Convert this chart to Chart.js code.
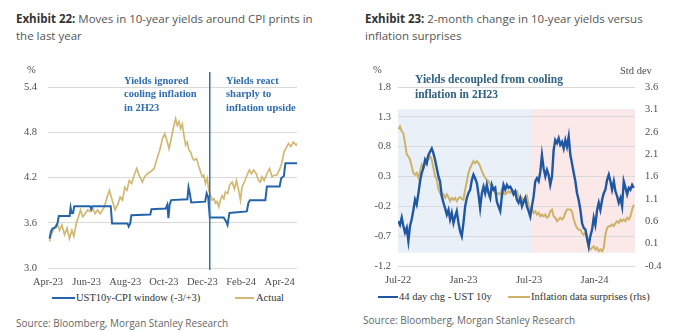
<!DOCTYPE html>
<html>
<head>
<meta charset="utf-8">
<script src="https://cdn.jsdelivr.net/npm/chart.js@4.4.1/dist/chart.umd.min.js"></script>
<style>
  body { margin: 0; background: #fff; }
  #page { position: relative; width: 680px; height: 331px; overflow: hidden; font-family: "Open Sans", sans-serif; }
  .title { position: absolute; top: 11px; font-size: 11.5px; line-height: 16.7px; color: #555; white-space: nowrap; }
  .title b { color: #333; }
  .src { position: absolute; font-size: 10px; line-height: 14px; color: #666; white-space: nowrap; }
  canvas { position: absolute; top: 60px; }
  .serif { position: absolute; font-family: "Liberation Serif", serif; font-size: 10.5px; line-height: 12px; color: #4d4d4d; white-space: nowrap; }
  .note { position: absolute; font-family: "Liberation Serif", serif; font-weight: bold; white-space: nowrap; }
  .key { position: absolute; font-family: "Liberation Serif", serif; font-size: 10.5px; line-height: 12px; color: #333; white-space: nowrap; }
  .key i { position: absolute; top: 5px; height: 2px; }
</style>
</head>
<body>
<div id="page">
  <div class="title" style="left:16px"><b>Exhibit 22:</b> Moves in 10-year yields around CPI prints in<br>the last year</div>
  <div class="title" style="left:365px"><b>Exhibit 23:</b> 2-month change in 10-year yields versus<br>inflation surprises</div>

  <canvas id="cpiChart" width="340" height="230" style="left:0"></canvas>
  <canvas id="surpriseChart" width="340" height="230" style="left:340px"></canvas>

  <div class="serif" style="left:27px;top:64px">%</div>
  <div class="note" style="left:124px;top:74px;font-size:10.5px;line-height:13.3px;color:#2e6db0">Yields ignored<br>cooling inflation<br>in 2H23</div>
  <div class="note" style="left:226px;top:74px;font-size:10.5px;line-height:13.3px;color:#2e6db0">Yields react<br>sharply to<br>inflation upside</div>

  <div class="serif" style="left:373px;top:64px">%</div>
  <div class="serif" style="left:620px;top:65px">Std dev</div>
  <div class="note" style="left:415px;top:72px;font-size:11.5px;line-height:15px;color:#2f6283">Yields decoupled from cooling<br>inflation in 2H23</div>

  <div class="key" style="left:52px;top:292px"><i style="left:0;width:23px;background:#2464ab"></i><span style="margin-left:24px">UST10y-CPI window (-3/+3)</span></div>
  <div class="key" style="left:235px;top:292px"><i style="left:0;width:19px;background:#d2b872"></i><span style="margin-left:21px">Actual</span></div>
  <div class="key" style="left:378px;top:291px"><i style="left:0;width:20px;background:#1f57a3"></i><span style="margin-left:21px">44 day chg - UST 10y</span></div>
  <div class="key" style="left:508px;top:291px"><i style="left:0;width:22px;background:#cdb26a"></i><span style="margin-left:23px">Inflation data surprises (rhs)</span></div>

  <div class="src" style="left:16px;top:316px">Source: Bloomberg, Morgan Stanley Research</div>
  <div class="src" style="left:363px;top:313px">Source: Bloomberg, Morgan Stanley Research</div>
</div>

<script>
// ---- Exhibit 22: x = months since 1 Apr 2023 ----
const cpiTickPos = [0, 2, 4, 6, 8, 10, 12];
const cpiTickText = ['Apr-23', 'Jun-23', 'Aug-23', 'Oct-23', 'Dec-23', 'Feb-24', 'Apr-24'];
const cpiYTicks = [3.0, 3.6, 4.2, 4.8, 5.4];
const cpiBreak = 8.38; // Dec-23 CPI print

const windowMonth = [0.08, 0.15, 0.22, 0.40, 0.50, 0.56, 1.12, 1.17, 1.22, 1.30, 1.36, 2.18, 2.24, 2.30, 3.25, 3.32,
  4.12, 4.18, 4.26, 4.32, 5.30, 5.36, 6.10, 6.18, 6.24, 6.30, 6.38, 7.22, 7.28, 7.34, 7.42, 8.14, 8.22, 8.30, 8.38,
  9.10, 9.22, 9.30, 9.40, 10.30, 10.38, 10.46, 11.26, 11.34, 12.00, 12.08, 12.22, 12.30, 12.90];
const windowYield = [3.39, 3.48, 3.52, 3.54, 3.60, 3.69, 3.69, 3.80, 3.73, 3.73, 3.82, 3.82, 3.78, 3.82, 3.82, 3.59,
  3.59, 3.55, 3.59, 3.70, 3.71, 3.78, 3.79, 3.84, 3.66, 3.84, 3.90, 3.91, 4.07, 4.00, 3.87, 3.88, 3.99, 3.94, 3.67,
  3.67, 3.62, 3.57, 3.73, 3.75, 3.86, 3.90, 3.90, 4.08, 4.08, 4.19, 4.22, 4.39, 4.39];

const actualMonth = [0.08, 0.17, 0.34, 0.48, 0.60, 0.72, 0.86, 0.99, 1.11, 1.24, 1.34, 1.46, 1.58, 1.68, 1.80, 1.92,
  2.06, 2.20, 2.32, 2.44, 2.57, 2.71, 2.83, 2.92, 3.06, 3.18, 3.30, 3.40, 3.47, 3.61, 3.74, 3.86, 3.98, 4.09, 4.21,
  4.33, 4.46, 4.60, 4.72, 4.89, 5.01, 5.15, 5.32, 5.50, 5.67, 5.81, 5.93, 6.05, 6.15, 6.27, 6.39, 6.49, 6.61, 6.70,
  6.79, 6.87, 6.96, 7.04, 7.13, 7.22, 7.30, 7.39, 7.47, 7.56, 7.70, 7.82, 7.90, 7.99, 8.07, 8.16, 8.25, 8.33, 8.42,
  8.50, 8.59, 8.68, 8.76, 8.85, 8.93, 9.02, 9.11, 9.19, 9.31, 9.41, 9.54, 9.66, 9.76, 9.88, 9.97, 10.05, 10.17,
  10.31, 10.43, 10.53, 10.65, 10.79, 10.91, 11.00, 11.08, 11.20, 11.34, 11.48, 11.60, 11.72, 11.85, 11.99, 12.11,
  12.23, 12.37, 12.46, 12.58, 12.71, 12.85, 12.90];
const actualYield = [3.35, 3.44, 3.54, 3.59, 3.50, 3.57, 3.44, 3.53, 3.39, 3.50, 3.42, 3.59, 3.68, 3.77, 3.68, 3.72,
  3.77, 3.75, 3.79, 3.72, 3.77, 3.72, 3.77, 3.81, 3.94, 4.03, 3.92, 3.84, 3.77, 3.84, 3.94, 3.90, 4.07, 4.03, 4.16,
  4.12, 4.23, 4.32, 4.23, 4.14, 4.21, 4.25, 4.28, 4.32, 4.47, 4.58, 4.72, 4.78, 4.70, 4.58, 4.72, 4.85, 4.98, 4.89,
  4.94, 4.85, 4.91, 4.76, 4.63, 4.67, 4.56, 4.54, 4.47, 4.43, 4.45, 4.34, 4.28, 4.21, 4.23, 4.12, 4.19, 4.03, 3.96,
  3.90, 3.92, 3.86, 3.88, 3.81, 3.90, 3.96, 3.92, 4.01, 3.99, 4.10, 4.14, 4.05, 4.16, 4.03, 3.90, 4.07, 4.14,
  4.23, 4.30, 4.25, 4.30, 4.25, 4.16, 4.14, 4.21, 4.16, 4.25, 4.32, 4.21, 4.23, 4.23, 4.30, 4.39,
  4.54, 4.61, 4.65, 4.61, 4.67, 4.63, 4.65];

// ---- Exhibit 23: x = months since 1 Jul 2022 ----
const chgTickPos = [0, 6, 12, 18];
const chgTickText = ['Jul-22', 'Jan-23', 'Jul-23', 'Jan-24'];
const chgYTicks = [-1.2, -0.7, -0.2, 0.3, 0.8, 1.3, 1.8];
const stdYTicks = [-0.4, 0.1, 0.6, 1.1, 1.6, 2.1, 2.6, 3.1, 3.6];
const bandFrom = [0, 12.2];
const bandTo = [21.7, 21.7];
const bandColour = ['#e9f0f7', '#fbe9e9'];
const bandLow = -0.1, bandHigh = 3.1; // rhs units

const chgMonth = [0.03, 0.18, 0.34, 0.49, 0.64, 0.80, 0.95, 1.10, 1.25, 1.41, 1.56, 1.71, 1.87, 2.02, 2.17, 2.32,
  2.48, 2.63, 2.78, 2.94, 3.09, 3.24, 3.39, 3.55, 3.70, 3.85, 4.01, 4.16, 4.31, 4.47, 4.62, 4.77, 4.92, 5.08, 5.23,
  5.38, 5.54, 5.69, 5.84, 5.99, 6.15, 6.30, 6.45, 6.61, 6.76, 6.91, 7.06, 7.22, 7.37, 7.52, 7.68, 7.83, 7.98, 8.13,
  8.29, 8.44, 8.59, 8.75, 8.90, 9.05, 9.20, 9.36, 9.51, 9.66, 9.82, 9.97, 10.12, 10.28, 10.43, 10.58, 10.73, 10.89,
  11.04, 11.19, 11.35, 11.50, 11.65, 11.80, 11.96, 12.11, 12.26, 12.42, 12.57, 12.72, 12.88, 13.03, 13.18, 13.33,
  13.49, 13.64, 13.79, 13.94, 14.10, 14.25, 14.40, 14.56, 14.71, 14.86, 15.02, 15.17, 15.32, 15.47, 15.63, 15.78,
  15.93, 16.09, 16.24, 16.39, 16.54, 16.70, 16.85, 17.00, 17.16, 17.31, 17.46, 17.61, 17.77, 17.92, 18.07, 18.23,
  18.38, 18.53, 18.69, 18.84, 18.99, 19.14, 19.30, 19.45, 19.60, 19.76, 19.91, 20.06, 20.21, 20.37, 20.52, 20.67,
  20.83, 20.98, 21.13, 21.28, 21.44, 21.59];
const chgValue = [-0.45, -0.51, -0.39, -0.53, -0.64, -0.56, -0.78, -0.53, -0.42, -0.26, -0.09, -0.17, 0.02, 0.22, 0.36, 0.44,
  0.58, 0.52, 0.66, 0.72, 0.77, 0.69, 0.58, 0.44, 0.30, 0.22, -0.03, -0.14, -0.23, -0.34, -0.26, -0.42, -0.31, -0.48, -0.37,
  -0.28, -0.48, -0.62, -0.70, -0.48, -0.20, -0.06, 0.02, 0.08, 0.24, 0.33, 0.27, 0.19, 0.00, -0.23, 0.02, 0.13, 0.02, 0.16,
  0.02, -0.06, 0.16, 0.08, 0.11, -0.12, -0.20, -0.28, -0.03, 0.16, 0.08, 0.16, 0.11, 0.13, 0.08, 0.00, 0.05, -0.09,
  -0.14, -0.06, -0.20, -0.12, -0.06, -0.20, -0.28, -0.37, -0.20, -0.03, 0.22, 0.27, 0.22, 0.38, 0.66, 0.44,
  0.30, 0.41, 0.33, 0.16, 0.30, 0.74, 0.91, 0.86, 0.94, 0.83, 0.88, 0.77, 0.91, 0.80, 0.97, 0.66,
  0.52, 0.36, 0.22, 0.02, -0.09, -0.26, -0.48, -0.56, -0.59, -0.73, -0.87, -0.70, -0.59, -0.39, -0.51, -0.26,
  -0.14, -0.26, -0.09, 0.02, 0.08, 0.24, 0.33, 0.22, 0.08, 0.22, 0.05, -0.03, -0.14, -0.06, -0.20, 0.22,
  0.11, 0.00, 0.11, 0.08, 0.16, 0.11];

const surpriseMonth = chgMonth;
const surpriseValue = [2.65, 2.72, 2.61, 2.57, 2.35, 2.09, 2.05, 1.98, 1.83, 1.68, 1.64, 1.68, 1.57, 1.72, 1.87, 1.79,
  1.90, 2.01, 1.98, 2.05, 1.98, 1.79, 1.61, 1.53, 1.31, 1.23, 1.16, 1.20, 1.12, 1.20, 1.14, 1.05, 1.12, 1.08, 1.12,
  1.05, 1.12, 1.14, 1.10, 1.08, 1.31, 1.49, 1.68, 1.79, 1.87, 1.94, 1.90, 1.94, 1.90, 1.83, 1.72, 1.64, 1.57, 1.53,
  1.49, 1.42, 1.38, 1.31, 1.23, 1.20, 1.23, 1.20, 1.31, 1.23, 1.20, 1.23, 1.27, 1.23, 1.31, 1.27, 1.23, 1.27,
  1.16, 1.08, 1.12, 1.01, 1.08, 1.16, 0.97, 0.86, 0.90, 0.79, 0.82, 0.75, 0.79, 0.71, 0.75, 0.71,
  0.75, 0.68, 0.71, 0.82, 0.86, 0.71, 0.68, 0.60, 0.64, 0.68, 0.64, 0.68, 0.79, 0.86, 0.86, 0.86,
  0.82, 0.64, 0.53, 0.45, 0.41, 0.41, 0.34, 0.30, 0.34, 0.19, 0.01, -0.03, 0.01, 0.04, -0.03, 0.01,
  -0.07, -0.03, -0.07, 0.01, 0.30, 0.45, 0.49, 0.49, 0.53, 0.49, 0.56, 0.60, 0.56, 0.64, 0.60, 0.64,
  0.60, 0.68, 0.64, 0.71, 0.86, 0.97];

const pts = (xs, ys) => xs.map((x, i) => ({ x: x, y: ys[i] }));
const tickFont = { family: '"Liberation Serif", serif', size: 10.5 };
const tickColour = '#4d4d4d';
const gridColour = '#d9d9d9';
const fixTicks = list => scale => { scale.ticks = list.map(v => ({ value: v })); };

// vertical marker at the December print
const breakLine = {
  id: 'breakLine',
  afterDatasetsDraw(chart) {
    const ctx = chart.ctx, area = chart.chartArea;
    const x = chart.scales.x.getPixelForValue(cpiBreak);
    ctx.save();
    ctx.strokeStyle = '#3570a8';
    ctx.lineWidth = 1.5;
    ctx.beginPath();
    ctx.moveTo(x, area.top - 15);
    ctx.lineTo(x, area.bottom + 2);
    ctx.stroke();
    ctx.restore();
  }
};

// shaded periods behind the grid
const bands = {
  id: 'bands',
  beforeDraw(chart) {
    const ctx = chart.ctx, x = chart.scales.x, y1 = chart.scales.y1;
    const top = y1.getPixelForValue(bandHigh), bottom = y1.getPixelForValue(bandLow);
    ctx.save();
    bandFrom.forEach((from, i) => {
      const l = x.getPixelForValue(from), r = x.getPixelForValue(bandTo[i]);
      ctx.fillStyle = bandColour[i];
      ctx.fillRect(l, top, r - l, bottom - top);
    });
    ctx.restore();
  }
};

new Chart(document.getElementById('cpiChart'), {
  type: 'line',
  data: {
    datasets: [
      { label: 'UST10y-CPI window (-3/+3)', data: pts(windowMonth, windowYield), borderColor: '#2464ab', borderWidth: 2, pointRadius: 0 },
      { label: 'Actual', data: pts(actualMonth, actualYield), borderColor: '#d2b872', borderWidth: 1.7, pointRadius: 0 }
    ]
  },
  options: {
    responsive: false,
    animation: false,
    layout: { padding: { left: 0, right: 43, top: 27, bottom: 0 } },
    plugins: { legend: { display: false }, tooltip: { enabled: false } },
    scales: {
      x: {
        type: 'linear', min: 0, max: 12.9,
        grid: { display: false, drawTicks: false }, border: { display: false },
        afterBuildTicks: fixTicks(cpiTickPos),
        afterFit: s => { s.height = 22; },
        ticks: { font: tickFont, color: tickColour, padding: 8, maxRotation: 0, autoSkip: false,
          callback: (v, i) => cpiTickText[i] }
      },
      y: {
        min: 3.0, max: 5.4,
        grid: { color: gridColour, drawTicks: false }, border: { display: false },
        afterBuildTicks: fixTicks(cpiYTicks),
        afterFit: s => { s.width = 48; },
        ticks: { font: tickFont, color: tickColour, padding: 11, callback: v => v.toFixed(1) }
      }
    }
  },
  plugins: [breakLine]
});

new Chart(document.getElementById('surpriseChart'), {
  type: 'line',
  data: {
    datasets: [
      { label: '44 day chg - UST 10y', data: pts(chgMonth, chgValue), yAxisID: 'y', borderColor: '#1f57a3', borderWidth: 2.4, pointRadius: 0 },
      { label: 'Inflation data surprises (rhs)', data: pts(surpriseMonth, surpriseValue), yAxisID: 'y1', borderColor: '#cdb26a', borderWidth: 2, pointRadius: 0 }
    ]
  },
  options: {
    responsive: false,
    animation: false,
    layout: { padding: { left: 0, right: 0, top: 27, bottom: 0 } },
    plugins: { legend: { display: false }, tooltip: { enabled: false } },
    scales: {
      x: {
        type: 'linear', min: 0, max: 21.7,
        grid: { display: false, drawTicks: false }, border: { display: false },
        afterBuildTicks: fixTicks(chgTickPos),
        afterFit: s => { s.height = 24; },
        ticks: { font: tickFont, color: tickColour, padding: 8, maxRotation: 0, autoSkip: false,
          callback: (v, i) => chgTickText[i] }
      },
      y: {
        position: 'left', min: -1.2, max: 1.8,
        grid: { color: gridColour, drawTicks: false }, border: { display: false },
        afterBuildTicks: fixTicks(chgYTicks),
        afterFit: s => { s.width = 58; },
        ticks: { font: tickFont, color: tickColour, padding: 7, callback: v => v.toFixed(1) }
      },
      y1: {
        position: 'right', min: -0.4, max: 3.6,
        grid: { display: false, drawTicks: false }, border: { display: false },
        afterBuildTicks: fixTicks(stdYTicks),
        afterFit: s => { s.width = 45; },
        ticks: { font: tickFont, color: tickColour, padding: 10, callback: v => v.toFixed(1) }
      }
    }
  },
  plugins: [bands]
});
</script>
</body>
</html>
